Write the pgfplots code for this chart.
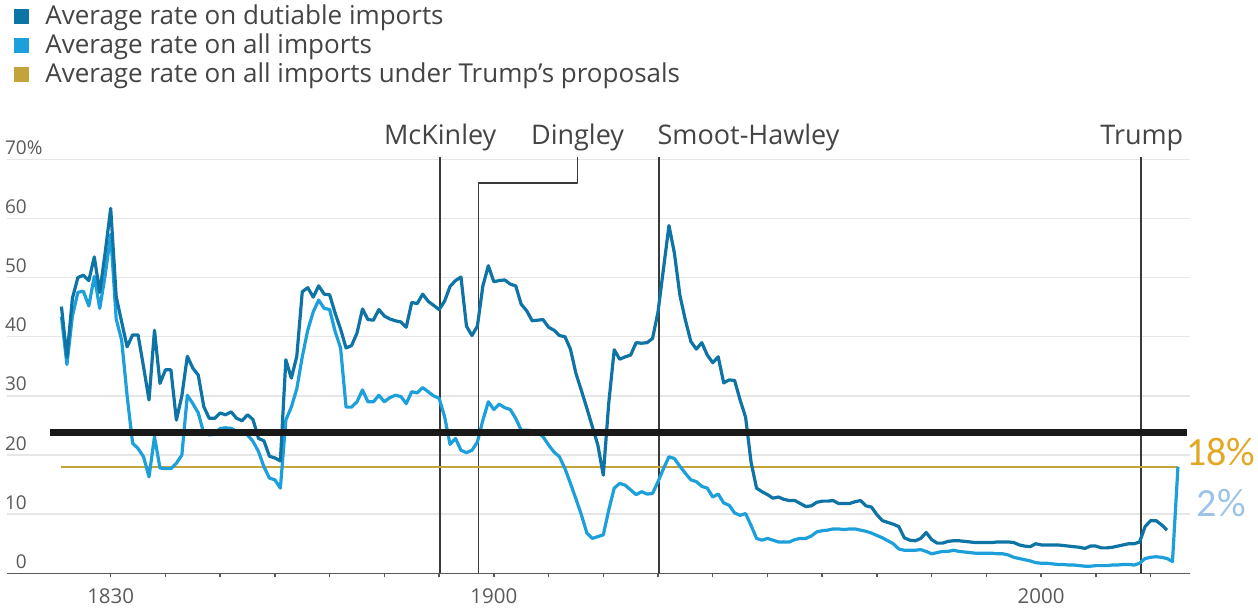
\documentclass[border=0pt]{standalone}
\usepackage{fontspec}
\setmainfont{Open Sans}
\newfontfamily\calloutfont{Carlito}
\usepackage{pgfplots}
\usepackage{pgfplotstable}
\pgfplotsset{compat=1.18}

\definecolor{dutiable}{HTML}{0E74A6}
\definecolor{allimp}{HTML}{1C9FDB}
\definecolor{proposal}{HTML}{C4A43A}
\definecolor{gridc}{HTML}{E6E6E6}
\definecolor{axisc}{HTML}{5A5A5A}
\definecolor{markc}{HTML}{3A3A3A}
\definecolor{labelc}{HTML}{444444}
\definecolor{callgold}{HTML}{E2A824}
\definecolor{callblue}{HTML}{9DC3E6}

% Average tariff rate on dutiable imports, percent
\pgfplotstableread{
year rate
1821 45.1
1822 36.5
1823 46.5
1824 50.0
1825 50.4
1826 49.5
1827 53.5
1828 47.5
1829 54.3
1830 61.7
1831 46.8
1832 42.5
1833 38.3
1834 40.3
1835 40.3
1836 34.9
1837 29.3
1838 41.1
1839 32.1
1840 34.4
1841 34.4
1842 25.9
1843 30.0
1844 36.7
1845 34.7
1846 33.5
1847 28.2
1848 26.2
1849 26.2
1850 27.1
1851 26.8
1852 27.3
1853 26.2
1854 25.8
1855 26.8
1856 26.0
1857 22.8
1858 22.4
1859 19.8
1860 19.5
1861 19.0
1862 36.1
1863 33.0
1864 36.7
1865 47.6
1866 48.3
1867 46.7
1868 48.6
1869 47.2
1870 47.1
1871 44.0
1872 41.3
1873 38.1
1874 38.5
1875 40.6
1876 44.7
1877 42.9
1878 42.8
1879 44.6
1880 43.5
1881 43.0
1882 42.7
1883 42.5
1884 41.6
1885 45.8
1886 45.6
1887 47.2
1888 46.0
1889 45.3
1890 44.6
1891 46.0
1892 48.5
1893 49.5
1894 50.1
1895 41.8
1896 40.2
1897 41.8
1898 48.6
1899 52.0
1900 49.3
1901 49.5
1902 49.6
1903 48.9
1904 48.6
1905 45.5
1906 44.4
1907 42.7
1908 42.8
1909 42.9
1910 41.6
1911 41.1
1912 40.2
1913 40.0
1914 37.9
1915 33.8
1916 30.9
1917 27.9
1918 24.8
1919 21.7
1920 16.6
1921 28.8
1922 37.8
1923 36.2
1924 36.6
1925 36.9
1926 39.0
1927 38.9
1928 39.0
1929 39.7
1930 44.2
1931 51.5
1932 58.8
1933 54.1
1934 47.0
1935 42.8
1936 39.2
1937 37.9
1938 39.0
1939 36.9
1940 35.6
1941 36.6
1942 32.2
1943 32.7
1944 32.6
1945 29.3
1946 26.4
1947 18.8
1948 14.4
1949 13.8
1950 13.3
1951 12.7
1952 12.9
1953 12.5
1954 12.3
1955 12.3
1956 11.8
1957 11.3
1958 11.4
1959 12.0
1960 12.2
1961 12.2
1962 12.3
1963 11.8
1964 11.8
1965 11.8
1966 12.1
1967 12.3
1968 11.4
1969 11.2
1970 9.9
1971 8.9
1972 8.6
1973 8.3
1974 7.9
1975 6.0
1976 5.6
1977 5.5
1978 5.9
1979 6.9
1980 5.7
1981 5.1
1982 5.1
1983 5.4
1984 5.5
1985 5.5
1986 5.4
1987 5.3
1988 5.2
1989 5.2
1990 5.2
1991 5.2
1992 5.3
1993 5.3
1994 5.3
1995 5.2
1996 4.8
1997 4.6
1998 4.5
1999 5.0
2000 4.8
2001 4.8
2002 4.8
2003 4.8
2004 4.7
2005 4.6
2006 4.5
2007 4.4
2008 4.2
2009 4.6
2010 4.6
2011 4.3
2012 4.3
2013 4.4
2014 4.6
2015 4.8
2016 5.0
2017 5.0
2018 5.3
2019 7.9
2020 8.9
2021 8.9
2022 8.2
2023 7.3
}\dutiabletable

% Average tariff rate on all imports, percent (last point: proposal)
\pgfplotstableread{
year rate
1821 43.4
1822 35.3
1823 43.5
1824 47.5
1825 47.7
1826 45.2
1827 50.2
1828 44.8
1829 50.5
1830 57.3
1831 43.0
1832 39.4
1833 30.0
1834 22.0
1835 21.1
1836 19.7
1837 16.3
1838 23.1
1839 17.8
1840 17.7
1841 17.7
1842 18.6
1843 20.0
1844 30.1
1845 28.7
1846 27.1
1847 23.7
1848 23.4
1849 23.5
1850 24.5
1851 24.6
1852 24.5
1853 24.0
1854 23.6
1855 23.4
1856 22.3
1857 20.6
1858 18.0
1859 16.1
1860 15.8
1861 14.4
1862 25.9
1863 28.1
1864 31.2
1865 36.6
1866 41.1
1867 44.2
1868 46.2
1869 44.8
1870 44.6
1871 40.9
1872 38.1
1873 28.1
1874 28.1
1875 29.0
1876 31.0
1877 29.0
1878 29.0
1879 30.1
1880 29.0
1881 29.7
1882 30.1
1883 29.9
1884 28.7
1885 30.7
1886 30.5
1887 31.4
1888 30.7
1889 30.0
1890 29.6
1891 26.5
1892 21.8
1893 22.8
1894 20.8
1895 20.4
1896 20.8
1897 22.2
1898 25.9
1899 29.0
1900 27.7
1901 28.6
1902 28.0
1903 27.7
1904 26.2
1905 24.2
1906 24.2
1907 24.1
1908 23.8
1909 23.1
1910 21.7
1911 20.5
1912 19.7
1913 17.7
1914 15.2
1915 12.6
1916 9.9
1917 6.8
1918 5.9
1919 6.2
1920 6.5
1921 10.7
1922 14.4
1923 15.2
1924 14.9
1925 14.1
1926 13.3
1927 13.8
1928 13.4
1929 13.5
1930 15.5
1931 17.7
1932 19.7
1933 19.4
1934 18.1
1935 16.9
1936 15.8
1937 15.5
1938 14.7
1939 14.4
1940 12.9
1941 13.4
1942 11.9
1943 11.5
1944 10.2
1945 9.8
1946 10.1
1947 8.1
1948 5.9
1949 5.6
1950 5.9
1951 5.6
1952 5.3
1953 5.3
1954 5.3
1955 5.7
1956 5.9
1957 5.9
1958 6.3
1959 7.0
1960 7.2
1961 7.3
1962 7.5
1963 7.5
1964 7.4
1965 7.5
1966 7.5
1967 7.3
1968 7.1
1969 6.8
1970 6.4
1971 6.0
1972 5.5
1973 5.0
1974 4.1
1975 3.9
1976 3.9
1977 3.9
1978 4.0
1979 3.7
1980 3.3
1981 3.5
1982 3.7
1983 3.7
1984 3.9
1985 3.7
1986 3.6
1987 3.5
1988 3.4
1989 3.4
1990 3.4
1991 3.4
1992 3.3
1993 3.3
1994 3.1
1995 2.7
1996 2.5
1997 2.3
1998 2.1
1999 1.8
2000 1.7
2001 1.7
2002 1.6
2003 1.5
2004 1.5
2005 1.4
2006 1.4
2007 1.3
2008 1.2
2009 1.2
2010 1.3
2011 1.3
2012 1.3
2013 1.4
2014 1.4
2015 1.5
2016 1.5
2017 1.4
2018 1.7
2019 2.5
2020 2.7
2021 2.8
2022 2.7
2023 2.5
2024 2.0
2025 18.0
}\alltable

\newcommand\legendfont{\fontsize{26bp}{29bp}\selectfont}
\newcommand\actfont{\fontsize{27bp}{30bp}\selectfont}

\begin{document}
\begin{tikzpicture}
\useasboundingbox (0,0) rectangle (1258bp,608bp);
\begin{axis}[
  at={(7bp,34.7bp)}, anchor=south west,
  scale only axis, width=1183bp, height=414bp,
  xmin=1811.05, xmax=2027.2, ymin=0, ymax=70,
  clip=false,
  axis x line*=bottom, axis y line*=left,
  x axis line style={draw=axisc, line width=1.5bp, -},
  y axis line style={draw=none},
  ytick={0,10,...,70},
  yticklabels={0,10,20,30,40,50,60,70\rlap{\%}},
  ymajorgrids, grid style={gridc, line width=1.5bp},
  ytick style={draw=none},
  xtick={1830,1840,...,2020},
  xticklabels={1830,,,,,,,1900,,,,,,,,,,2000,,},
  tick align=outside, major tick length=4bp,
  xtick style={draw=axisc, line width=1.5bp},
  /pgf/number format/assume math mode=true,
  yticklabel style={anchor=base east, inner sep=0pt, xshift=24bp, yshift=5bp,
    font=\fontsize{19bp}{22bp}\selectfont, text=axisc},
  xticklabel style={anchor=base, inner sep=0pt, yshift=-26bp,
    font=\fontsize{20.5bp}{24bp}\selectfont, text=axisc},
  legend style={at={(axis description cs:0.0059,1.3751)}, anchor=north west,
    draw=none, fill=none, inner sep=0pt, outer sep=0pt, row sep=0pt,
    font=\legendfont, text=labelc,
    nodes={inner sep=0pt, text height=20bp, text depth=9bp}},
  legend cell align=left,
  legend image code/.code={\fill[#1] (0bp,-5bp) rectangle (14bp,9bp); \path (31bp,0bp);},
  every axis plot/.append style={line join=round},
]
\addlegendimage{color=dutiable}
\addlegendentry{Average rate on dutiable imports}
\addlegendimage{color=allimp}
\addlegendentry{Average rate on all imports}
\addlegendimage{color=proposal}
\addlegendentry{Average rate on all imports under Trump’s proposals}

% tariff acts
\addplot[forget plot, markc, line width=1.8bp] coordinates {(1890.2,0) (1890.2,70.4)};
\addplot[forget plot, markc, line width=1.8bp] coordinates {(1897.2,0) (1897.2,66.05) (1915.3,66.05) (1915.3,70.4)};
\addplot[forget plot, markc, line width=1.8bp] coordinates {(1930.2,0) (1930.2,70.4)};
\addplot[forget plot, markc, line width=1.8bp] coordinates {(2018.3,0) (2018.3,70.4)};

% proposed rate
\addplot[forget plot, proposal, line width=2.2bp] coordinates {(1821,18) (2025,18)};

\addplot[forget plot, allimp, line width=3.2bp] table[x=year, y=rate] {\alltable};
\addplot[forget plot, dutiable, line width=3.2bp] table[x=year, y=rate] {\dutiabletable};

% reference level
\addplot[forget plot, black!90, line width=6.5bp] coordinates {(1818.9,23.8) (2026.6,23.8)};

\node[anchor=base, font=\actfont, text=labelc] at (axis cs:1890.2,72.42) {McKinley};
\node[anchor=base, font=\actfont, text=labelc] at (axis cs:1915.3,72.42) {Dingley};
\node[anchor=base west, font=\actfont, text=labelc, inner sep=0pt] at (axis cs:1929.9,72.42) {Smoot-Hawley};
\node[anchor=base, font=\actfont, text=labelc] at (axis cs:2018.4,72.42) {Trump};

\node[anchor=base west, inner sep=0pt, text=callgold, font={\calloutfont\fontsize{40bp}{44bp}\selectfont}] at (axis cs:2026.5,18.31) {18\%};
\node[anchor=base west, inner sep=0pt, text=callblue, font={\calloutfont\fontsize{40bp}{44bp}\selectfont}] at (axis cs:2028.4,9.6) {2\%};
\end{axis}
\end{tikzpicture}
\end{document}
